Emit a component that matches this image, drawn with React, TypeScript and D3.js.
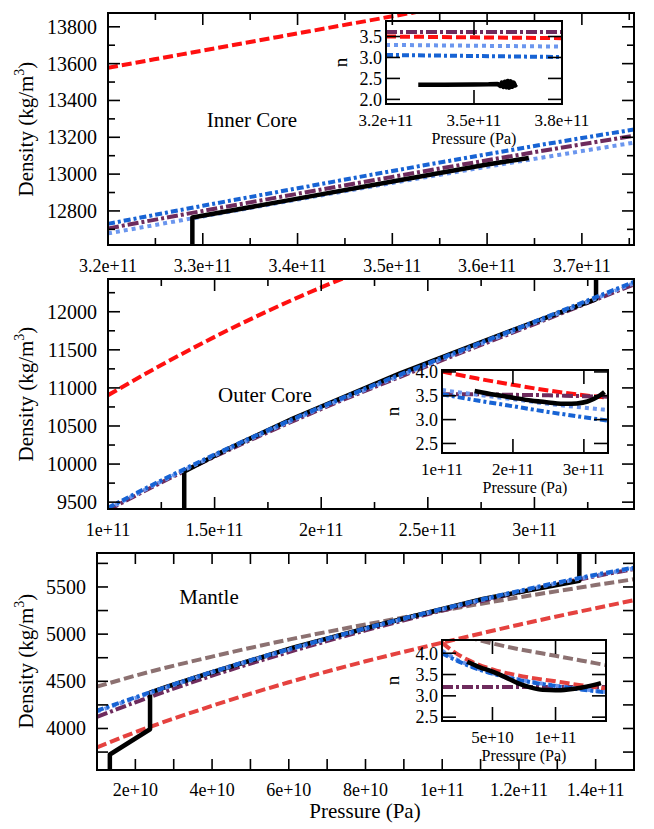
import React, { useEffect, useRef } from 'react';
import * as d3 from 'd3';

const W = 654, H = 829;
const FONT = "'Liberation Serif', 'Times New Roman', serif";

// ---------- Inner core (density vs pressure)
const icP = [3.2e11, 3.3e11, 3.4e11, 3.5e11, 3.6e11, 3.7e11, 3.76e11];
const icPurple = [12705, 12800, 12893, 12985, 13075, 13162, 13212];
const icBlue = [12730, 12828, 12923, 13017, 13108, 13196, 13246];
const icLight = [12678, 12770, 12862, 12952, 13040, 13125, 13175];
const icRedP = [3.2e11, 3.3e11, 3.4e11, 3.5e11, 3.6e11];
const icRed = [13578, 13671, 13764, 13857, 13950];
const icPremP = [3.289e11, 3.289e11, 3.4e11, 3.5e11, 3.6e11, 3.644e11];
const icPrem = [12400, 12764, 12867, 12960, 13052, 13088];

// ---------- Outer core
const ocP = [1.0e11, 1.25e11, 1.5e11, 1.75e11, 2.0e11, 2.5e11, 3.0e11, 3.5e11];
const ocBlue = [9425, 9785, 10125, 10445, 10750, 11320, 11870, 12430];
const ocLight = [9410, 9772, 10112, 10432, 10737, 11305, 11853, 12412];
const ocPurple = [9395, 9758, 10098, 10418, 10723, 11290, 11838, 12396];
const ocRedP = [1.0e11, 1.25e11, 1.5e11, 1.75e11, 2.0e11, 2.25e11];
const ocRed = [10905, 11300, 11670, 12010, 12320, 12600];
const ocPremP = [1.3575e11, 1.3575e11, 1.55e11, 1.87e11, 2.37e11, 2.8e11, 3.289e11, 3.289e11];
const ocPrem = [9300, 9903, 10181, 10602, 11191, 11655, 12166, 12600];

// ---------- Mantle
const mP = [1e10, 2e10, 4e10, 6e10, 8e10, 1e11, 1.2e11, 1.4e11, 1.5e11];
const mBlue = [4190, 4330, 4600, 4840, 5062, 5268, 5458, 5630, 5705];
const mLight = [4180, 4322, 4594, 4834, 5056, 5262, 5452, 5622, 5697];
const mPurple = [4122, 4278, 4560, 4810, 5040, 5250, 5442, 5614, 5690];
const mBrown = [4443, 4560, 4762, 4942, 5102, 5250, 5390, 5520, 5582];
const mRed = [3800, 3960, 4240, 4490, 4712, 4910, 5100, 5275, 5360];
const mPremP = [1.335e10, 1.335e10, 2.383e10, 2.383e10, 2.83e10, 3.88e10, 6.13e10, 8.56e10, 1.106e11, 1.3575e11, 1.3575e11];
const mPrem = [3400, 3724, 3992, 4381, 4443, 4580, 4860, 5121, 5372, 5566, 6000];

// ---------- Insets (n vs pressure)
const in1P = [3.2e11, 3.5e11, 3.8e11];
const in1Purple = [3.61, 3.61, 3.61];
const in1Red = [3.50, 3.48, 3.46];
const in1Light = [3.30, 3.28, 3.26];
const in1Blue = [3.06, 3.035, 3.01];
const in1BlackP = [3.31e11, 3.4e11, 3.5e11, 3.55e11, 3.58e11, 3.59e11, 3.595e11, 3.6e11, 3.605e11, 3.61e11, 3.615e11, 3.62e11, 3.625e11, 3.63e11, 3.635e11, 3.64e11, 3.645e11];
const in1Black = [2.35, 2.35, 2.355, 2.36, 2.37, 2.32, 2.40, 2.30, 2.42, 2.29, 2.44, 2.28, 2.43, 2.30, 2.40, 2.33, 2.36];

const in2P = [1.0e11, 1.5e11, 2.0e11, 2.5e11, 3.0e11, 3.34e11];
const in2Red = [4.01, 3.86, 3.73, 3.61, 3.51, 3.46];
const in2Purple = [3.53, 3.53, 3.52, 3.51, 3.49, 3.48];
const in2Light = [3.62, 3.52, 3.43, 3.33, 3.25, 3.20];
const in2Blue = [3.53, 3.40, 3.28, 3.16, 3.05, 2.98];
const in2BlackP = [1.46e11, 1.75e11, 2.0e11, 2.25e11, 2.5e11, 2.75e11, 2.9e11, 3.05e11, 3.2e11, 3.29e11];
const in2Black = [3.60, 3.52, 3.46, 3.40, 3.36, 3.33, 3.34, 3.38, 3.48, 3.58];

const in3P = [1e10, 2e10, 3e10, 5e10, 7e10, 1e11, 1.2e11, 1.4e11];
const in3Red = [4.25, 4.02, 3.85, 3.62, 3.48, 3.34, 3.25, 3.17];
const in3Blue = [4.00, 3.85, 3.72, 3.52, 3.38, 3.23, 3.15, 3.08];
const in3Light = [4.06, 3.88, 3.74, 3.53, 3.39, 3.24, 3.16, 3.09];
const in3Purple = [3.21, 3.21, 3.21, 3.21, 3.21, 3.21, 3.21, 3.21];
const in3BrownP = [3e10, 5e10, 7e10, 1e11, 1.2e11, 1.4e11];
const in3Brown = [4.38, 4.23, 4.10, 3.94, 3.83, 3.72];
const in3BlackP = [3e10, 4e10, 5e10, 6e10, 7e10, 8e10, 9e10, 1e11, 1.1e11, 1.2e11, 1.3e11, 1.36e11];
const in3Black = [3.80, 3.67, 3.57, 3.44, 3.30, 3.20, 3.14, 3.13, 3.15, 3.19, 3.25, 3.30];

// ---------- tick labels
const icXTicks = [3.2e11, 3.3e11, 3.4e11, 3.5e11, 3.6e11, 3.7e11];
const icXLabels = ['3.2e+11', '3.3e+11', '3.4e+11', '3.5e+11', '3.6e+11', '3.7e+11'];
const icYTicks = [12800, 13000, 13200, 13400, 13600, 13800];
const ocXTicks = [1e11, 1.5e11, 2e11, 2.5e11, 3e11];
const ocXLabels = ['1e+11', '1.5e+11', '2e+11', '2.5e+11', '3e+11'];
const ocYTicks = [9500, 10000, 10500, 11000, 11500, 12000];
const mXTicks = [2e10, 4e10, 6e10, 8e10, 1e11, 1.2e11, 1.4e11];
const mXLabels = ['2e+10', '4e+10', '6e+10', '8e+10', '1e+11', '1.2e+11', '1.4e+11'];
const mYTicks = [4000, 4500, 5000, 5500];
const nTicks = [2.0, 2.5, 3.0, 3.5];
const nTicks2 = [2.5, 3.0, 3.5, 4.0];
const in1XTicks = [3.2e11, 3.5e11, 3.8e11];
const in1XLabels = ['3.2e+11', '3.5e+11', '3.8e+11'];
const in2XTicks = [1e11, 2e11, 3e11];
const in2XLabels = ['1e+11', '2e+11', '3e+11'];
const in3XTicks = [5e10, 1e11];
const in3XLabels = ['5e+10', '1e+11'];

const styles: Record<string, { c: string; w: number; d: string }> = {
  red: { c: '#ff1010', w: 4, d: '10,4' },
  red2: { c: '#e5423f', w: 4, d: '10,4' },
  brown: { c: '#8c7171', w: 4, d: '10,4' },
  purple: { c: '#6e2b5d', w: 4, d: '11,3,3,3' },
  blue: { c: '#1763d4', w: 4, d: '7,3,3,3' },
  light: { c: '#6b96ee', w: 4, d: '4,4' },
  black: { c: '#000', w: 4.5, d: '' },
};

let clipId = 0;

function drawBox(svg: any, o: any) {
  const x = d3.scaleLinear().domain(o.xDomain).range([o.left, o.right]);
  const y = d3.scaleLinear().domain(o.yDomain).range([o.bottom, o.top]);
  const id = 'clip' + (clipId++);
  svg.append('clipPath').attr('id', id).append('rect')
    .attr('x', o.left).attr('y', o.top)
    .attr('width', o.right - o.left).attr('height', o.bottom - o.top);

  const lines = svg.append('g').attr('clip-path', 'url(#' + id + ')');
  o.series.forEach((s: any) => {
    const st = styles[s.style];
    const line = d3.line<[number, number]>()
      .x(d => x(d[0])).y(d => y(d[1]))
      .curve(s.smooth ? d3.curveMonotoneX : d3.curveLinear);
    lines.append('path')
      .datum(d3.zip(s.x, s.y))
      .attr('d', line)
      .attr('fill', 'none')
      .attr('stroke', st.c)
      .attr('stroke-width', st.w)
      .attr('stroke-dasharray', st.d || null)
      .attr('stroke-linejoin', 'round');
  });

  const ax = svg.append('g').attr('stroke', '#000').attr('stroke-width', 1.6);
  const tick = (vals: number[], len: number) => {
    vals.forEach(v => {
      const px = x(v);
      if (px < o.left - 0.5 || px > o.right + 0.5) return;
      ax.append('line').attr('x1', px).attr('x2', px).attr('y1', o.bottom).attr('y2', o.bottom - len);
      ax.append('line').attr('x1', px).attr('x2', px).attr('y1', o.top).attr('y2', o.top + len);
    });
  };
  const ytick = (vals: number[], len: number) => {
    vals.forEach(v => {
      const py = y(v);
      if (py < o.top - 0.5 || py > o.bottom + 0.5) return;
      ax.append('line').attr('y1', py).attr('y2', py).attr('x1', o.left).attr('x2', o.left + len);
      ax.append('line').attr('y1', py).attr('y2', py).attr('x1', o.right).attr('x2', o.right - len);
    });
  };
  tick(o.xMajor, o.majorLen);
  tick(o.xMinor || [], o.minorLen);
  ytick(o.yMajor, o.majorLen);
  ytick(o.yMinor || [], o.minorLen);
  svg.append('rect')
    .attr('x', o.left).attr('y', o.top)
    .attr('width', o.right - o.left).attr('height', o.bottom - o.top)
    .attr('fill', 'none').attr('stroke', '#000').attr('stroke-width', 2);

  const txt = svg.append('g').attr('font-family', FONT).attr('fill', '#000');
  o.xMajor.forEach((v: number, i: number) => {
    txt.append('text').attr('x', x(v)).attr('y', o.bottom + o.xLabelDy)
      .attr('text-anchor', 'middle').attr('font-size', o.xFont).text(o.xLabels[i]);
  });
  o.yMajor.forEach((v: number, i: number) => {
    txt.append('text').attr('x', o.left - o.yLabelGap).attr('y', y(v)).attr('dy', '0.35em')
      .attr('text-anchor', 'end').attr('font-size', o.yFont).text(o.yLabels[i]);
  });
  return { x, y };
}

function densityLabel(svg: any, cx: number, cy: number) {
  const t = svg.append('text')
    .attr('transform', `translate(${cx},${cy}) rotate(-90)`)
    .attr('text-anchor', 'middle').attr('dy', '0.35em')
    .attr('font-family', FONT).attr('font-size', 21);
  t.append('tspan').text('Density (kg/m');
  t.append('tspan').attr('font-size', 14).attr('dy', -9).text('3');
  t.append('tspan').attr('dy', 9).text(')');
}

function inset(svg: any, o: any) {
  drawBox(svg, {
    ...o, majorLen: 14, minorLen: 0, xFont: 17, yFont: 18,
    xLabelDy: 22, yLabelGap: 4,
    yLabels: o.yMajor.map((v: number) => v.toFixed(1)),
  });
  svg.append('text').attr('x', (o.left + o.right) / 2).attr('y', o.bottom + 40)
    .attr('text-anchor', 'middle').attr('font-family', FONT).attr('font-size', 16)
    .text('Pressure (Pa)');
  svg.append('text')
    .attr('transform', `translate(${o.left - (o.nGap || 50)},${(o.top + o.bottom) / 2}) rotate(-90)`)
    .attr('text-anchor', 'middle').attr('dy', '0.35em')
    .attr('font-family', FONT).attr('font-size', 19).text('n');
}

function label(svg: any, x: number, y: number, s: string, size = 21) {
  svg.append('text').attr('x', x).attr('y', y).attr('text-anchor', 'middle')
    .attr('dy', '0.35em').attr('font-family', FONT).attr('font-size', size).text(s);
}

export default function App() {
  const ref = useRef<SVGSVGElement>(null);

  useEffect(() => {
    const svg = d3.select(ref.current);
    svg.selectAll('*').remove();
    clipId = 0;

    // Inner core
    drawBox(svg, {
      left: 108, right: 634, top: 13, bottom: 245,
      xDomain: [3.2e11, 3.755e11], yDomain: [12615, 13875],
      xMajor: icXTicks, xMinor: icXTicks.map(v => v + 0.5e10), xLabels: icXLabels,
      yMajor: icYTicks, yMinor: [12700, 12900, 13100, 13300, 13500, 13700], yLabels: icYTicks.map(String),
      majorLen: 12, minorLen: 7, xFont: 18, yFont: 20, xLabelDy: 27, yLabelGap: 11,
      series: [
        { x: icRedP, y: icRed, style: 'red', smooth: true },
        { x: icP, y: icLight, style: 'light', smooth: true },
        { x: icP, y: icPurple, style: 'purple', smooth: true },
        { x: icP, y: icBlue, style: 'blue', smooth: true },
        { x: icPremP, y: icPrem, style: 'black' },
      ],
    });
    densityLabel(svg, 26, 129);
    label(svg, 252, 120, 'Inner Core');
    inset(svg, {
      left: 386, right: 562, top: 21, bottom: 104, nGap: 46,
      xDomain: [3.2e11, 3.8e11], yDomain: [1.89, 3.87],
      xMajor: in1XTicks, xLabels: in1XLabels, yMajor: nTicks,
      series: [
        { x: in1P, y: in1Purple, style: 'purple' },
        { x: in1P, y: in1Red, style: 'red' },
        { x: in1P, y: in1Light, style: 'light' },
        { x: in1P, y: in1Blue, style: 'blue' },
        { x: in1BlackP, y: in1Black, style: 'black' },
      ],
    });

    // Outer core
    drawBox(svg, {
      left: 108, right: 634, top: 279, bottom: 509,
      xDomain: [1e11, 3.467e11], yDomain: [9410, 12430],
      xMajor: ocXTicks, xMinor: ocXTicks.map(v => v + 0.25e11), xLabels: ocXLabels,
      yMajor: ocYTicks, yMinor: ocYTicks.map(v => v + 250), yLabels: ocYTicks.map(String),
      majorLen: 12, minorLen: 7, xFont: 18, yFont: 20, xLabelDy: 27, yLabelGap: 11,
      series: [
        { x: ocRedP, y: ocRed, style: 'red', smooth: true },
        { x: ocP, y: ocPurple, style: 'purple', smooth: true },
        { x: ocPremP, y: ocPrem, style: 'black' },
        { x: ocP, y: ocLight, style: 'light', smooth: true },
        { x: ocP, y: ocBlue, style: 'blue', smooth: true },
      ],
    });
    densityLabel(svg, 26, 394);
    label(svg, 265, 395, 'Outer Core');
    inset(svg, {
      left: 442, right: 608, top: 370, bottom: 453,
      xDomain: [1e11, 3.34e11], yDomain: [2.3, 4.04],
      xMajor: in2XTicks, xLabels: in2XLabels, yMajor: nTicks2,
      series: [
        { x: in2P, y: in2Red, style: 'red', smooth: true },
        { x: in2P, y: in2Purple, style: 'purple', smooth: true },
        { x: in2P, y: in2Light, style: 'light', smooth: true },
        { x: in2P, y: in2Blue, style: 'blue', smooth: true },
        { x: in2BlackP, y: in2Black, style: 'black', smooth: true },
      ],
    });

    // Mantle
    drawBox(svg, {
      left: 97, right: 634, top: 553, bottom: 770,
      xDomain: [1e10, 1.5e11], yDomain: [3560, 5860],
      xMajor: mXTicks, xMinor: mXTicks.map(v => v + 1e10), xLabels: mXLabels,
      yMajor: mYTicks, yMinor: [3750, 4250, 4750, 5250, 5750], yLabels: mYTicks.map(String),
      majorLen: 11, minorLen: 11, xFont: 18, yFont: 20, xLabelDy: 26, yLabelGap: 11,
      series: [
        { x: mP, y: mRed, style: 'red2', smooth: true },
        { x: mP, y: mBrown, style: 'brown', smooth: true },
        { x: mP, y: mPurple, style: 'purple', smooth: true },
        { x: mPremP, y: mPrem, style: 'black' },
        { x: mP, y: mLight, style: 'light', smooth: true },
        { x: mP, y: mBlue, style: 'blue', smooth: true },
      ],
    });
    densityLabel(svg, 26, 661);
    label(svg, 209, 597, 'Mantle');
    label(svg, 365, 811, 'Pressure (Pa)');
    inset(svg, {
      left: 442, right: 606, top: 640, bottom: 721,
      xDomain: [1e10, 1.4e11], yDomain: [2.41, 4.31],
      xMajor: in3XTicks, xLabels: in3XLabels, yMajor: nTicks2,
      series: [
        { x: in3BrownP, y: in3Brown, style: 'brown', smooth: true },
        { x: in3P, y: in3Purple, style: 'purple' },
        { x: in3P, y: in3Red, style: 'red2', smooth: true },
        { x: in3P, y: in3Light, style: 'light', smooth: true },
        { x: in3P, y: in3Blue, style: 'blue', smooth: true },
        { x: in3BlackP, y: in3Black, style: 'black', smooth: true },
      ],
    });
  }, []);

  return (
    <svg ref={ref} width={W} height={H}
      style={{ position: 'absolute', left: 0, top: 0, background: '#fff' }} />
  );
}
